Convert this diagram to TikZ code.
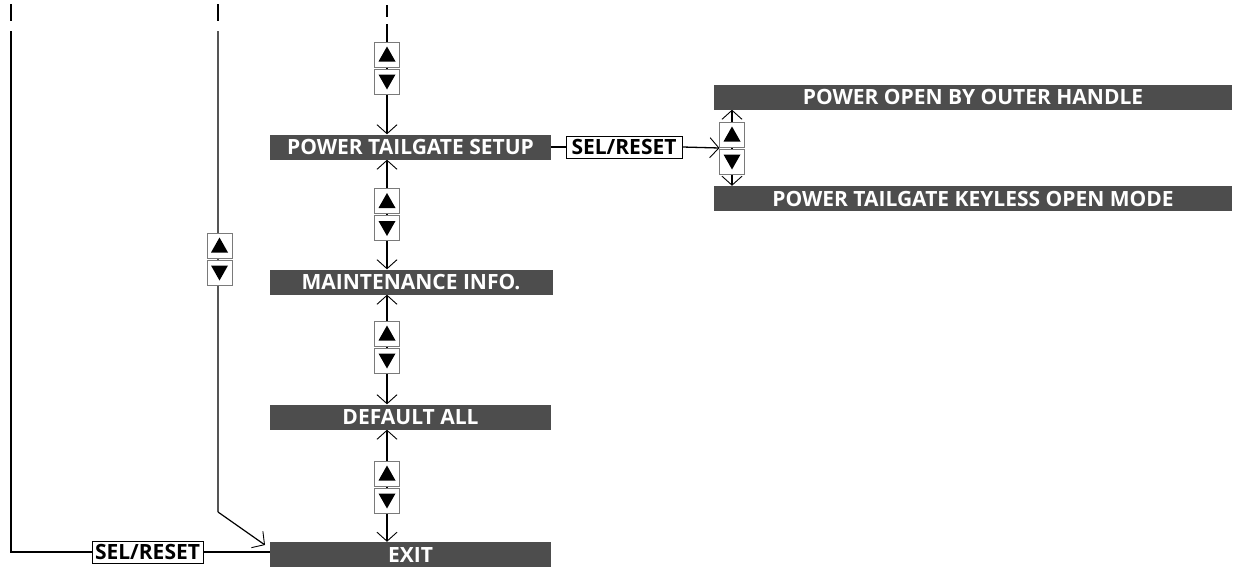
\documentclass[tikz,border=0pt]{standalone}
\usepackage{fontspec}
\setmainfont{Open Sans}
\usetikzlibrary{arrows.meta,backgrounds}
\definecolor{hdrgray}{HTML}{4D4D4D}
\definecolor{boxgray}{HTML}{7A7A7A}
\definecolor{linegray}{HTML}{555555}
\newcommand\udpair[3]{%
  \node[udbox] (#1u) at (#2,#3-13.5) {};
  \node[udbox] (#1d) at (#2,#3+13.5) {};
  \fill ([shift={(-8.5,7)}]#1u.center) -- ([shift={(8.5,7)}]#1u.center) -- ([shift={(0,-8)}]#1u.center) -- cycle;
  \fill ([shift={(-8.5,-7)}]#1d.center) -- ([shift={(8.5,-7)}]#1d.center) -- ([shift={(0,8)}]#1d.center) -- cycle;
}
\begin{document}
\begin{tikzpicture}[x=1pt,y=-1pt,
  hdr/.style={fill=hdrgray, text=white, font=\bfseries\fontsize{21}{21}\selectfont, minimum height=25pt, inner sep=0pt},
  keybox/.style={draw=black, fill=white, line width=1pt, font=\bfseries\fontsize{21}{21}\selectfont, inner xsep=2pt, inner ysep=0pt, minimum height=22pt},
  udbox/.style={draw=boxgray, fill=white, line width=1pt, minimum width=25pt, minimum height=25pt, inner sep=0pt},
  conn/.style={line width=1.3pt, black},
  thick2/.style={line width=2pt, black},
  tipE/.style={-{Straight Barb[length=9pt,width=20pt,line width=0.9pt]}},
  tipB/.style={{Straight Barb[length=9pt,width=20pt,line width=0.9pt]}-{Straight Barb[length=9pt,width=20pt,line width=0.9pt]}}
]
\useasboundingbox (0,0) rectangle (1239,570);

% header boxes
\node[hdr, minimum width=281pt] (pts) at (410.5,147) {POWER TAILGATE SETUP};
\node[hdr, minimum width=283pt] (mi) at (411,282) {MAINTENANCE INFO.};
\node[hdr, minimum width=281pt] (da) at (410.5,417) {DEFAULT ALL};
\node[hdr, minimum width=281pt] (exit) at (410.5,554.5) {EXIT};
\node[hdr, minimum width=518pt] (po) at (973,97) {POWER OPEN BY OUTER HANDLE};
\node[hdr, minimum width=518pt] (pk) at (973,198.5) {POWER TAILGATE KEYLESS OPEN MODE};

% key boxes
\node[keybox, minimum width=111pt] (sel1) at (147.5,552) {SEL/RESET};
\node[keybox, minimum width=116pt] (sel2) at (624,147) {SEL/RESET};

% up/down pairs
\udpair{a}{387}{68}
\udpair{b}{387}{214.5}
\udpair{c}{387}{347}
\udpair{e}{387}{487}
\udpair{l}{219.5}{259}
\udpair{r}{732}{148}

% coordinates
\coordinate (ctop) at (387,24);
\coordinate (d1a) at (387,5);
\coordinate (d1b) at (387,17);
\coordinate (t1a) at (11,4);
\coordinate (t1b) at (11,21);
\coordinate (l1) at (11,31);
\coordinate (t2a) at (218,4);
\coordinate (t2b) at (218,21);
\coordinate (l2) at (218,31);
\coordinate (l2c) at (218,512);
\coordinate (l2tip) at (265,545);
\coordinate (rmid) at (719.5,148);
\coordinate (rx) at (732,0);

\begin{scope}[on background layer]
  \draw[conn] (d1a) -- (d1b);
  \draw[conn,tipE] (ctop) -- (ctop |- pts.north);
  \draw[conn,tipB] (ctop |- pts.south) -- (ctop |- mi.north);
  \draw[conn,tipB] (ctop |- mi.south) -- (ctop |- da.north);
  \draw[conn,tipB] (ctop |- da.south) -- (ctop |- exit.north);
  \draw[thick2] (t1a) -- (t1b);
  \draw[thick2] (t2a) -- (t2b);
  \draw[thick2] (l1) |- (sel1.west);
  \draw[thick2] (sel1.east) -- (sel1.east -| exit.west);
  \draw[line width=1.2pt, linegray] (l2) -- (l2c);
  \draw[line width=1.2pt, black, tipE] (l2c) -- (l2tip);
  \draw[conn] (pts.east) -- (sel2.west);
  \draw[conn,tipE] (sel2.east) -- (rmid);
  \draw[conn,tipB] (rx |- po.south) -- (rx |- pk.north);
\end{scope}
\end{tikzpicture}
\end{document}
